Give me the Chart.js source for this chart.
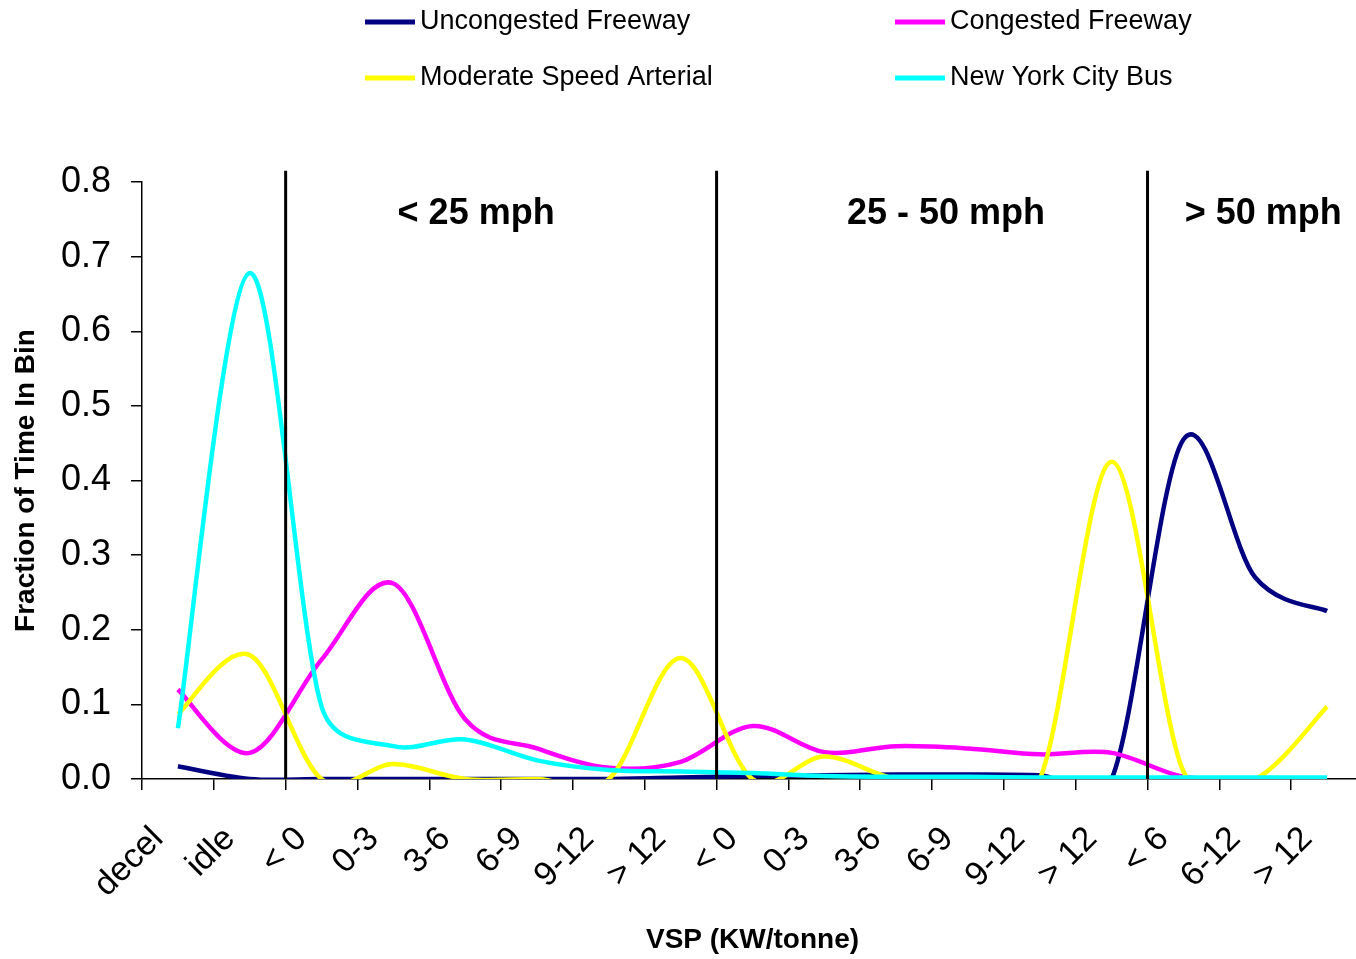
<!DOCTYPE html>
<html>
<head>
<meta charset="utf-8">
<style>
html, body { margin: 0; padding: 0; overflow: hidden; background: #fff; }
canvas { display: block; }
</style>
<script src="https://cdn.jsdelivr.net/npm/chart.js@4.4.0/dist/chart.umd.min.js"></script>
</head>
<body>
<canvas id="myChart" width="1368" height="959"></canvas>
<script>
// VSP bins
var categories = ['decel', 'idle', '< 0', '0-3', '3-6', '6-9', '9-12', '> 12',
                  '< 0', '0-3', '3-6', '6-9', '9-12', '> 12', '< 6', '6-12', '> 12'];

var uncongested = [0.017, 0.0, 0.0, 0.0, 0.0, 0.0, 0.0, 0.002, 0.004, 0.005, 0.006, 0.006, 0.005, 0.0, 0.455, 0.27, 0.225];
var congested   = [0.12, 0.035, 0.16, 0.262, 0.08, 0.041, 0.015, 0.023, 0.071, 0.036, 0.044, 0.041, 0.033, 0.035, 0.003, 0.0, 0.0];
var arterial    = [0.087, 0.166, 0.0, 0.02, 0.0, 0.0, 0.0, 0.162, 0.0, 0.03, 0.0, 0.0, 0.0, 0.425, 0.01, 0.0, 0.097];
var nycBus      = [0.068, 0.678, 0.097, 0.044, 0.053, 0.025, 0.012, 0.01, 0.008, 0.004, 0.003, 0.003, 0.002, 0.002, 0.002, 0.002, 0.002];

var yTicks = [0, 0.1, 0.2, 0.3, 0.4, 0.5, 0.6, 0.7, 0.8];

var sectionLabels = ['< 25 mph', '25 - 50 mph', '> 50 mph'];
var sectionBreaks = [1, 7, 13];   // divider sits after these category indexes

var FONT = '"Liberation Sans", Arial, sans-serif';

//////// Excel style smoothing: control points at 1/6 of the neighbour span,
//////// capped at half of the adjacent segment
var excelSmooth = {
    id: 'excelSmooth',
    beforeDatasetDraw: function(chart, args) {
        var line = args.meta.dataset, pts = args.meta.data;
        if (line.updateControlPoints) line.updateControlPoints(chart.chartArea, 'x');
        for (var i = 0; i < pts.length; i++) {
            var p = pts[i];
            var prev = pts[Math.max(i - 1, 0)], next = pts[Math.min(i + 1, pts.length - 1)];
            var sx = next.x - prev.x, sy = next.y - prev.y;
            var span = Math.hypot(sx, sy) || 1;
            var fIn = Math.min(1 / 6, Math.hypot(p.x - prev.x, p.y - prev.y) / (2 * span));
            var fOut = Math.min(1 / 6, Math.hypot(next.x - p.x, next.y - p.y) / (2 * span));
            p.cp1x = p.x - fIn * sx; p.cp1y = p.y - fIn * sy;
            p.cp2x = p.x + fOut * sx; p.cp2y = p.y + fOut * sy;
        }
        line._path = undefined;
    }
};

//////// section dividers + speed labels ////////
var sectionPlugin = {
    id: 'sections',
    afterDatasetsDraw: function(chart) {
        var ctx = chart.ctx, x = chart.scales.x, y = chart.scales.y;
        var edges = [];
        ctx.save();
        ctx.strokeStyle = '#000';
        ctx.lineWidth = 3;
        sectionBreaks.forEach(function(i) {
            var px = (x.getPixelForValue(i) + x.getPixelForValue(i + 1)) / 2;
            edges.push(px);
            ctx.beginPath();
            ctx.moveTo(px, y.getPixelForValue(0.815));
            ctx.lineTo(px, y.getPixelForValue(0));
            ctx.stroke();
        });
        edges.push(x.right);
        var shift = [-25, 14, 8];
        ctx.font = 'bold 36px ' + FONT;
        ctx.fillStyle = '#000';
        ctx.textAlign = 'center';
        ctx.textBaseline = 'middle';
        sectionLabels.forEach(function(t, k) {
            ctx.fillText(t, (edges[k] + edges[k + 1]) / 2 + shift[k], y.getPixelForValue(0.757));
        });
        ctx.restore();
    }
};

//////// 2x2 legend ////////
var legendPlugin = {
    id: 'legendGrid',
    afterDraw: function(chart) {
        var ctx = chart.ctx;
        var cols = [365, 895], rows = [22, 78];
        ctx.save();
        ctx.font = '27px ' + FONT;
        ctx.textAlign = 'left';
        ctx.textBaseline = 'middle';
        chart.data.datasets.forEach(function(ds, i) {
            var lx = cols[i % 2], ly = rows[Math.floor(i / 2)];
            ctx.strokeStyle = ds.borderColor;
            ctx.lineWidth = 5;
            ctx.beginPath();
            ctx.moveTo(lx, ly);
            ctx.lineTo(lx + 50, ly);
            ctx.stroke();
            ctx.fillStyle = '#000';
            ctx.fillText(ds.label, lx + 55, ly);
        });
        ctx.restore();
    }
};

function series(label, values, color, order) {
    return {
        label: label,
        data: values,
        borderColor: color,
        backgroundColor: color,
        borderWidth: 4.5,
        pointRadius: 0,
        tension: 0.4,
        fill: false,
        order: order
    };
}

var ctx = document.getElementById('myChart');
var myChart = new Chart(ctx, {
    type: 'line',
    data: {
        labels: categories,
        datasets: [
            series('Uncongested Freeway', uncongested, '#000080', 3),
            series('Congested Freeway', congested, '#FF00FF', 2),
            series('Moderate Speed Arterial', arterial, '#FFFF00', 1),
            series('New York City Bus', nycBus, '#00FFFF', 0)
        ]
    },
    options: {
        responsive: false,
        animation: false,
        layout: { padding: { top: 182, right: 5, left: 0, bottom: 0 } },
        plugins: {
            legend: { display: false },
            tooltip: { enabled: false }
        },
        scales: {
            x: {
                offset: true,
                grid: { offset: true, drawOnChartArea: false, drawTicks: true, tickLength: 11, color: '#000', lineWidth: 1.5 },
                border: { display: true, color: '#000', width: 1.5 },
                ticks: {
                    autoSkip: false, minRotation: 45, maxRotation: 45,
                    padding: 29, labelOffset: -20, color: '#000',
                    font: { family: FONT, size: 34 }
                },
                title: {
                    display: true, text: 'VSP (KW/tonne)', color: '#000',
                    font: { family: FONT, size: 28, weight: 'bold' },
                    padding: { top: 0, bottom: 2 }
                },
                afterFit: function(s) { s.height = 180; s.paddingLeft = 0; s.paddingRight = 0; }
            },
            y: {
                min: 0, max: 0.8,
                grid: { drawOnChartArea: false, drawTicks: true, tickLength: 11, color: '#000', lineWidth: 1.5 },
                border: { display: true, color: '#000', width: 1.5 },
                afterBuildTicks: function(s) { s.ticks = yTicks.map(function(v) { return { value: v }; }); },
                ticks: {
                    padding: 20, color: '#000',
                    font: { family: FONT, size: 36 },
                    callback: function(v) { return Number(v).toFixed(1); }
                },
                title: {
                    display: true, text: 'Fraction of Time In Bin', color: '#000',
                    font: { family: FONT, size: 28, weight: 'bold' },
                    padding: { top: 9, bottom: 0 }
                },
                afterFit: function(s) { s.width = 142; }
            }
        }
    },
    plugins: [excelSmooth, sectionPlugin, legendPlugin]
});
</script>
</body>
</html>
